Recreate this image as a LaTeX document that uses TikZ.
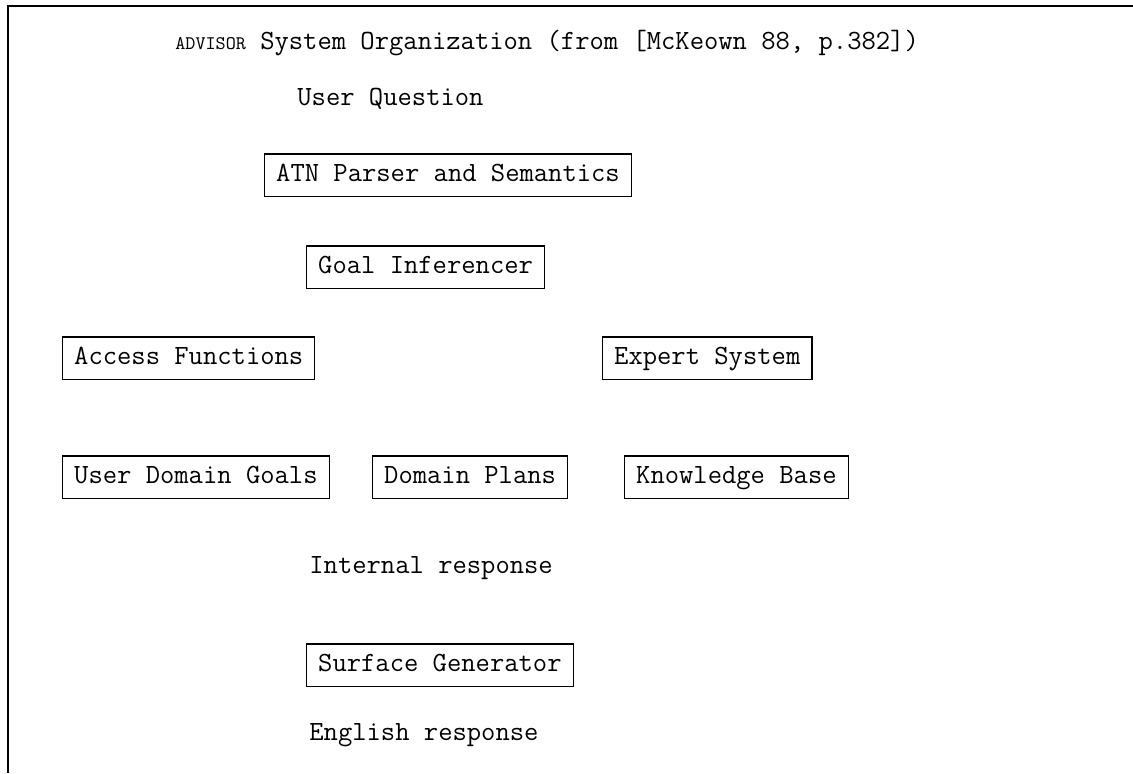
\documentclass[tikz,border=0pt]{standalone}
\usepackage{fontspec}
\usetikzlibrary{positioning}

\begin{document}
\begin{tikzpicture}[x=0.5pt,y=-0.5pt,
    every node/.style={font=\ttfamily\fontsize{13.9}{16}\selectfont},
    module/.style={draw,line width=0.6pt,anchor=west,inner xsep=5.8pt,inner ysep=5pt,text height=8.6pt,text depth=2.5pt},
    plain text/.style={anchor=west,inner sep=0pt,text height=8.6pt,text depth=2.5pt}]

    \useasboundingbox (0,0) rectangle (1133,773);

    % open frame, top and left edge only
    \draw[line width=0.8pt] (8,773) -- (8,6) -- (1133,6);

    \node[plain text] (title) at (175,43) {{\fontsize{9.6}{11}\selectfont ADVISOR} System Organization (from [McKeown 88, p.382])};

    \node[plain text] (question) at (297,99) {User Question};
    \node[module] (atn) at (264,175) {ATN Parser and Semantics};
    \node[module] (goal) at (306,267) {Goal Inferencer};

    \node[module] (access) at (62,358) {Access Functions};
    \node[module] (expert) at (602,358) {Expert System};

    \node[module] (udgoals) at (62,477) {User Domain Goals};
    \node[module] (dplans) at (372,477) {Domain Plans};
    \node[module] (kbase) at (624,477) {Knowledge Base};

    \node[plain text] (internal) at (309,567) {Internal response};
    \node[module] (surface) at (306,665) {Surface Generator};
    \node[plain text] (english) at (309,734) {English response};

\end{tikzpicture}
\end{document}
